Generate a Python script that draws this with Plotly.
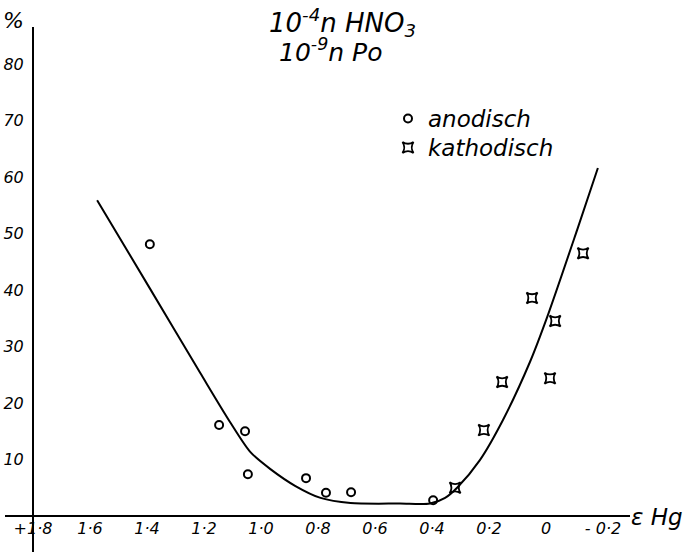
import plotly.graph_objects as go

# anodisch (open circles)
anod_x = [1.39, 1.147, 1.056, 1.046, 0.842, 0.772, 0.684, 0.396]
anod_y = [48.1, 16.1, 15.0, 7.4, 6.7, 4.1, 4.2, 2.8]

# kathodisch (concave squares)
kath_x = [0.319, 0.218, 0.154, 0.049, -0.032, -0.014, -0.130]
kath_y = [5.0, 15.2, 23.7, 38.6, 34.5, 24.4, 46.5]

# hand-drawn curve
curve_x = [1.575, 1.389, 1.213, 1.107, 1.037, 0.967, 0.879, 0.791, 0.686,
           0.512, 0.407, 0.354, 0.312, 0.232, 0.151, 0.056, -0.004, -0.109, -0.182]
curve_y = [55.9, 40.2, 25.3, 16.5, 11.3, 8.3, 5.3, 3.2, 2.3,
           2.2, 2.2, 3.2, 5.0, 9.9, 17.0, 27.3, 35.2, 50.6, 61.6]

x_ticks = [1.8, 1.6, 1.4, 1.2, 1.0, 0.8, 0.6, 0.4, 0.2, 0.0, -0.2]
x_labels = ["+1·8", "1·6", "1·4", "1·2", "1·0", "0·8", "0·6", "0·4", "0·2", "0", "- 0·2"]
y_ticks = [10, 20, 30, 40, 50, 60, 70, 80]
y_labels = ["10", "20", "30", "40", "50", "60", "70", "80"]

W, H = 686, 552
FONT = "DejaVu Sans"

fig = go.Figure()
fig.add_trace(go.Scatter(x=curve_x, y=curve_y, mode="lines",
                         line=dict(color="black", width=2, shape="spline", smoothing=0.8),
                         showlegend=False, cliponaxis=False, hoverinfo="skip"))
fig.add_trace(go.Scatter(x=anod_x, y=anod_y, mode="markers", name="anodisch",
                         legend="legend",
                         marker=dict(symbol="circle-open", size=8, color="black",
                                     line=dict(width=2, color="black")),
                         cliponaxis=False))
fig.add_trace(go.Scatter(x=kath_x, y=kath_y, mode="markers", name="kathodisch",
                         legend="legend2",
                         marker=dict(symbol="star-square-open", size=10, color="black",
                                     line=dict(width=1.8, color="black")),
                         cliponaxis=False))

legend_common = dict(xanchor="left", yanchor="top", bgcolor="rgba(0,0,0,0)",
                     font=dict(size=23, style="italic", family=FONT),
                     tracegroupgap=0, itemwidth=30)

fig.update_layout(
    width=W, height=H,
    margin=dict(l=0, r=0, t=0, b=0),
    paper_bgcolor="white", plot_bgcolor="white",
    font=dict(family=FONT, color="black"),
    xaxis=dict(domain=[5 / W, 630 / W], range=[1.8982, -0.2947],
               anchor="free", position=36 / H,
               showline=True, linecolor="black", linewidth=2,
               showgrid=False, zeroline=False, ticks="",
               tickvals=x_ticks, ticktext=x_labels,
               tickfont=dict(size=16, style="italic", family=FONT),
               ticklabelstandoff=-2),
    yaxis=dict(domain=[0, (H - 27) / H], range=[-6.372, 86.55],
               anchor="free", position=33 / W,
               showline=True, linecolor="black", linewidth=2,
               showgrid=False, zeroline=False, ticks="",
               tickvals=y_ticks, ticktext=y_labels,
               tickfont=dict(size=16, style="italic", family=FONT),
               ticklabelstandoff=5),
    legend=dict(x=388 / W, y=1 - 97 / H, **legend_common),
    legend2=dict(x=388 / W, y=1 - 126 / H, **legend_common),
    annotations=[
        dict(text="%", x=14 / W, y=1 - 20 / H, xref="paper", yref="paper",
             xanchor="center", yanchor="middle",
             showarrow=False, font=dict(size=22, style="italic", family=FONT)),
        dict(text="ε Hg", x=657 / W, y=1 - 517 / H, xref="paper", yref="paper",
             xanchor="center", yanchor="middle",
             showarrow=False, font=dict(size=23, style="italic", family=FONT)),
        dict(text="10<sup>-4</sup><i>n</i> HNO<sub>3</sub>", x=342 / W, y=1 - 23 / H,
             xref="paper", yref="paper", xanchor="center", yanchor="middle",
             showarrow=False, font=dict(size=26, style="italic", family=FONT)),
        dict(text="10<sup>-9</sup><i>n</i> Po", x=330 / W, y=1 - 51 / H,
             xref="paper", yref="paper", xanchor="center", yanchor="middle",
             showarrow=False, font=dict(size=25, style="italic", family=FONT)),
    ],
)

fig.write_html("out.html")
